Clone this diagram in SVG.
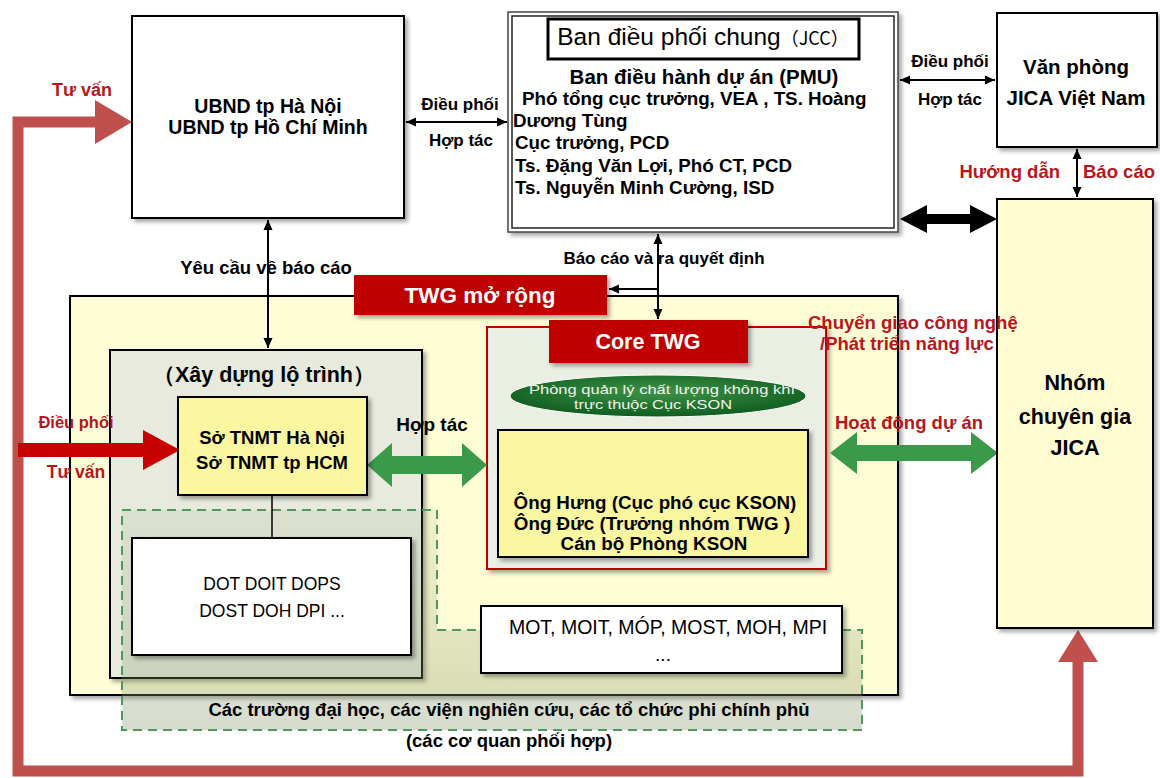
<svg xmlns="http://www.w3.org/2000/svg" width="1160" height="778" viewBox="0 0 1160 778">
<defs>
<style>
text{font-family:"Liberation Sans",Arial,sans-serif;fill:#000}
.b{font-weight:bold}
.c{text-anchor:middle}
.red{fill:#B8161C}
.wh{fill:#fff}
.box{stroke:#000;stroke-width:2}
.thin{stroke:#000;stroke-width:2;fill:none}
</style>
<filter id="sh" x="-10%" y="-10%" width="125%" height="125%">
<feDropShadow dx="3" dy="3" stdDeviation="2" flood-color="#000" flood-opacity="0.35"/>
</filter>
<marker id="ah" viewBox="0 0 10 10" refX="10" refY="5" markerWidth="10" markerHeight="10" markerUnits="userSpaceOnUse" orient="auto-start-reverse">
<path d="M0,0.5 L10,5 L0,9.5 z" fill="#000"/>
</marker>
<radialGradient id="eg" cx="50%" cy="40%" r="60%">
<stop offset="0" stop-color="#3E9448"/>
<stop offset="1" stop-color="#0F5C1F"/>
</radialGradient>
<linearGradient id="dg" x1="0" y1="0" x2="0" y2="1">
<stop offset="0" stop-color="#8A9A70" stop-opacity="0.12"/>
<stop offset="1" stop-color="#8A9A70" stop-opacity="0.35"/>
</linearGradient>
</defs>
<rect width="1160" height="778" fill="#fff"/>

<g id="twg-extended">
<rect class="box" x="70" y="296" width="828" height="399" fill="#FEFDD6" filter="url(#sh)"/>
</g>

<g id="roadmap">
<rect class="box" x="110" y="350" width="312" height="328" fill="#E7EADD" filter="url(#sh)"/>
<text class="b c" x="264" y="382" font-size="21.5">（Xây dựng lộ trình）</text>
</g>

<g id="core-container">
<rect x="487" y="327" width="339" height="242" fill="#EAEEE3" stroke="#C00000" stroke-width="2" filter="url(#sh)"/>
</g>

<g id="cooperating-agencies">
<path d="M122,510 L437,510 L437,630 L862,630 L862,730 L122,730 Z" fill="url(#dg)" stroke="#4E9A5E" stroke-width="2" stroke-dasharray="9,6"/>
<text class="b c" x="509" y="716" font-size="18.5">Các trường đại học, các viện nghiên cứu, các tổ chức phi chính phủ</text>
<text class="b c" x="509" y="747" font-size="18.5">(các cơ quan phối hợp)</text>
</g>

<g id="connectors">
<path d="M1078,662 L1078,771 L18,771 L18,122 L96,122" fill="none" stroke="#C0504D" stroke-width="11" stroke-linejoin="miter"/>
<polygon points="132,122 95,100 95,144" fill="#C0504D"/>
<polygon points="1078,630 1058,662 1098,662" fill="#C0504D"/>
<rect x="18" y="443" width="127" height="14" fill="#C80000"/>
<polygon points="180,450 143,430 143,470" fill="#C80000"/>
<line class="thin" x1="406" y1="122" x2="507" y2="122" marker-start="url(#ah)" marker-end="url(#ah)"/>
<line class="thin" x1="900" y1="80" x2="995" y2="80" marker-start="url(#ah)" marker-end="url(#ah)"/>
<line class="thin" x1="1077" y1="149" x2="1077" y2="197" marker-start="url(#ah)" marker-end="url(#ah)"/>
<line class="thin" x1="268" y1="220" x2="268" y2="348" marker-start="url(#ah)" marker-end="url(#ah)"/>
<line class="thin" x1="658" y1="234" x2="658" y2="319" marker-start="url(#ah)" marker-end="url(#ah)"/>
<line class="thin" x1="658" y1="289" x2="609" y2="289" marker-end="url(#ah)"/>
<line x1="272" y1="495" x2="272" y2="538" stroke="#000" stroke-width="1.5"/>
<polygon points="900,219 927,205 927,214 970,214 970,205 997,219 970,233 970,224 927,224 927,233" fill="#000"/>
<polygon points="367,465 392,443 392,456 462,456 462,443 487,465 462,487 462,474 392,474 392,487" fill="#3A9A4A"/>
<polygon points="830,453 857,432 857,445 971,445 971,432 998,453 971,474 971,461 857,461 857,474" fill="#3A9A4A"/>
</g>

<g id="ubnd">
<rect class="box" x="132" y="16" width="272" height="202" fill="#fff" filter="url(#sh)"/>
<text class="b c" x="268" y="113" font-size="19.5">UBND tp Hà Nội</text>
<text class="b c" x="268" y="134" font-size="19.5">UBND tp Hồ Chí Minh</text>
</g>

<g id="jcc">
<rect x="508" y="12" width="390" height="220" fill="#fff" stroke="#444" stroke-width="1.5" filter="url(#sh)"/>
<rect x="512" y="16" width="382" height="212" fill="none" stroke="#222" stroke-width="1.5"/>
<rect x="548" y="19" width="311" height="40" fill="#fff" stroke="#000" stroke-width="3"/>
<text class="c" x="703" y="45" font-size="24.5">Ban điều phối chung<tspan font-family="'Noto Sans CJK JP',sans-serif" font-size="18">（JCC）</tspan></text>
<text class="b c" x="704" y="84" font-size="20.5">Ban điều hành dự án (PMU)</text>
<text class="b" x="522" y="105" font-size="18.8">Phó tổng cục trưởng, VEA , TS. Hoàng</text>
<text class="b" x="513" y="127" font-size="18.8">Dương Tùng</text>
<text class="b" x="515" y="149" font-size="18.8">Cục trưởng, PCD</text>
<text class="b" x="515" y="172" font-size="18.8">Ts. Đặng Văn Lợi, Phó CT, PCD</text>
<text class="b" x="515" y="194" font-size="18.8">Ts. Nguyễn Minh Cường, ISD</text>
</g>

<g id="jica-vn">
<rect class="box" x="997" y="13" width="160" height="134" fill="#fff" filter="url(#sh)"/>
<text class="b c" x="1076" y="74" font-size="20.5">Văn phòng</text>
<text class="b c" x="1076" y="105" font-size="20.5">JICA Việt Nam</text>
</g>

<g id="jica-team">
<rect class="box" x="997" y="199" width="156" height="429" fill="#FFFCD2" filter="url(#sh)"/>
<text class="b c" x="1075" y="390" font-size="21.5">Nhóm</text>
<text class="b c" x="1075" y="424" font-size="21.5">chuyên gia</text>
<text class="b c" x="1075" y="455" font-size="21.5">JICA</text>
</g>

<g id="twg-extended-label">
<rect x="354" y="275" width="253" height="40" fill="#C00000" filter="url(#sh)"/>
<text class="b c wh" x="480" y="303" font-size="22.5">TWG mở rộng</text>
</g>

<g id="core-twg">
<rect x="549" y="320" width="199" height="43" fill="#C00000" filter="url(#sh)"/>
<text class="b c wh" x="648" y="349" font-size="21.5">Core TWG</text>
</g>

<g id="air-quality-dept">
<ellipse cx="658" cy="396" rx="148" ry="21" fill="url(#eg)" stroke="#fff" stroke-width="1"/>
<text class="c" x="662" y="394" font-size="13.5" textLength="266" lengthAdjust="spacingAndGlyphs" style="fill:#F0F5EC">Phòng quản lý chất lượng không khí</text>
<text class="c" x="653" y="409" font-size="13.5" textLength="158" lengthAdjust="spacingAndGlyphs" style="fill:#F0F5EC">trực thuộc Cục KSON</text>
</g>

<g id="core-members">
<rect class="box" x="498" y="430" width="310" height="127" fill="#FBF7A0" filter="url(#sh)"/>
<text class="b c" x="655" y="509" font-size="18.8">Ông Hưng (Cục phó cục KSON)</text>
<text class="b c" x="652" y="530" font-size="18.8">Ông Đức (Trưởng nhóm TWG )</text>
<text class="b c" x="654" y="550" font-size="18.8">Cán bộ Phòng KSON</text>
</g>

<g id="so-tnmt">
<rect class="box" x="178" y="397" width="189" height="98" fill="#FBF7A0" filter="url(#sh)"/>
<text class="b c" x="272" y="444" font-size="18.5">Sở TNMT Hà Nội</text>
<text class="b c" x="272" y="469" font-size="18.5">Sở TNMT tp HCM</text>
</g>

<g id="local-depts">
<rect class="box" x="132" y="538" width="279" height="117" fill="#fff" filter="url(#sh)"/>
<text class="c" x="272" y="590" font-size="17.5">DOT DOIT DOPS</text>
<text class="c" x="272" y="617" font-size="17.5">DOST DOH DPI ...</text>
</g>

<g id="ministries">
<rect class="box" x="481" y="606" width="361" height="67" fill="#fff" filter="url(#sh)"/>
<text class="c" x="668" y="634" font-size="19.5">MOT, MOIT, MÓP, MOST, MOH, MPI</text>
<text class="c" x="663" y="661" font-size="19">...</text>
</g>

<g id="labels">
<text class="b red" x="52" y="96" font-size="18">Tư vấn</text>
<text class="b c" x="460" y="110" font-size="17">Điều phối</text>
<text class="b c" x="461" y="146" font-size="17">Hợp tác</text>
<text class="b c" x="950" y="67" font-size="17">Điều phối</text>
<text class="b c" x="950" y="105" font-size="17">Hợp tác</text>
<text class="b red" x="1060" y="178" font-size="18.5" text-anchor="end">Hướng dẫn</text>
<text class="b red" x="1083" y="178" font-size="18.5">Báo cáo</text>
<text class="b c" x="266" y="274" font-size="18.5">Yêu cầu về báo cáo</text>
<text class="b c" x="664" y="264" font-size="17">Báo cáo và ra quyết định</text>
<text class="b red" x="808" y="329" font-size="18.5">Chuyển giao công nghệ</text>
<text class="b red" x="820" y="350" font-size="18.5">/Phát triển năng lực</text>
<text class="b red c" x="909" y="429" font-size="18.5">Hoạt động dự án</text>
<text class="b c" x="432" y="431" font-size="19">Hợp tác</text>
<text class="b red c" x="76" y="428" font-size="16.5">Điều phối</text>
<text class="b red c" x="76" y="478" font-size="17.5">Tư vấn</text>
</g>
</svg>
